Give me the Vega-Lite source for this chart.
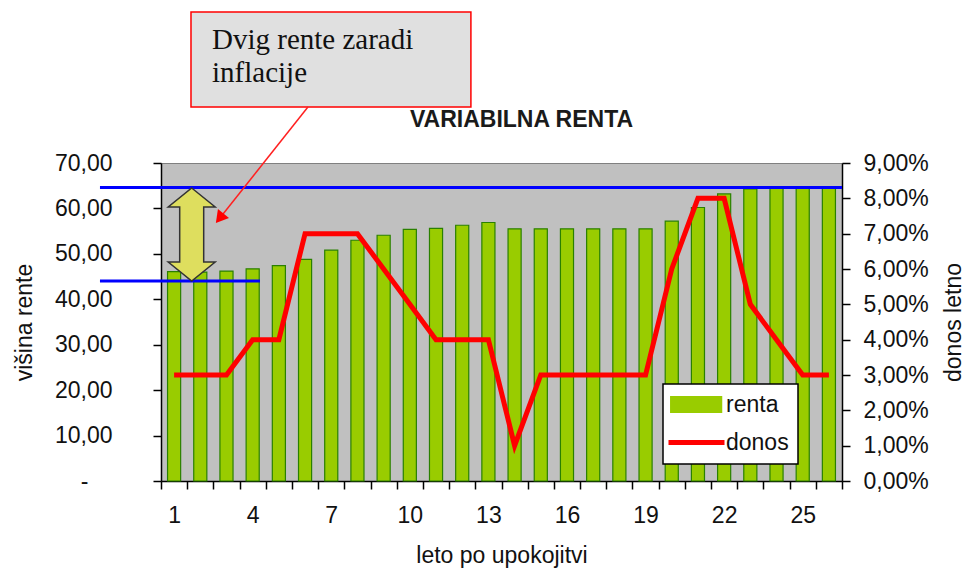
{
  "$schema": "https://vega.github.io/schema/vega-lite/v6.json",
  "width": 681,
  "height": 318,
  "autosize": {"type": "none"},
  "padding": {"left": 161, "top": 163, "right": 125, "bottom": 89},
  "background": "white",
  "title": {
    "text": "VARIABILNA RENTA",
    "font": "Liberation Sans",
    "fontSize": 23,
    "fontWeight": "bold",
    "color": "#1a1a1a",
    "frame": "group",
    "anchor": "middle",
    "dx": 20,
    "offset": -139,
    "baseline": "alphabetic"
  },
  "datasets": {
    "main": [
      {"leto": 1, "renta": 46.1, "donos": 3},
      {"leto": 2, "renta": 46.0, "donos": 3},
      {"leto": 3, "renta": 46.2, "donos": 3},
      {"leto": 4, "renta": 46.7, "donos": 4},
      {"leto": 5, "renta": 47.4, "donos": 4},
      {"leto": 6, "renta": 48.8, "donos": 7},
      {"leto": 7, "renta": 50.8, "donos": 7},
      {"leto": 8, "renta": 53.0, "donos": 7},
      {"leto": 9, "renta": 54.1, "donos": 6},
      {"leto": 10, "renta": 55.4, "donos": 5},
      {"leto": 11, "renta": 55.6, "donos": 4},
      {"leto": 12, "renta": 56.3, "donos": 4},
      {"leto": 13, "renta": 56.9, "donos": 4},
      {"leto": 14, "renta": 55.5, "donos": 1},
      {"leto": 15, "renta": 55.5, "donos": 3},
      {"leto": 16, "renta": 55.5, "donos": 3},
      {"leto": 17, "renta": 55.5, "donos": 3},
      {"leto": 18, "renta": 55.5, "donos": 3},
      {"leto": 19, "renta": 55.5, "donos": 3},
      {"leto": 20, "renta": 57.2, "donos": 6},
      {"leto": 21, "renta": 60.2, "donos": 8},
      {"leto": 22, "renta": 63.2, "donos": 8},
      {"leto": 23, "renta": 64.3, "donos": 5},
      {"leto": 24, "renta": 64.8, "donos": 4},
      {"leto": 25, "renta": 64.8, "donos": 3},
      {"leto": 26, "renta": 64.8, "donos": 3}
    ],
    "blue": [
      {"x": -1.83, "x2": 26.5, "y": 64.6},
      {"x": -1.83, "x2": 4.28, "y": 44.0}
    ],
    "box": [
      {"x": 1.645, "x2": 12.332, "y": 82.33, "y2": 103.24}
    ],
    "boxtext": [
      {"x": 2.447, "y": 95.1, "t": "Dvig rente zaradi"},
      {"x": 2.447, "y": 87.9, "t": "inflacije"}
    ],
    "pointer": [
      {"x": 6.11, "y": 82.33, "x2": 2.74, "y2": 57.83}
    ],
    "tip": [
      {"x": 2.74, "y": 57.83}
    ],
    "yarrow": [
      {"x": 1.672, "y": 54.26}
    ]
  },
  "layer": [
    {
      "data": {"name": "main"},
      "mark": {"type": "bar", "width": {"band": 0.5}, "stroke": "#2a8000", "strokeWidth": 1.2},
      "encoding": {
        "x": {
          "field": "leto",
          "type": "ordinal",
          "scale": {"paddingInner": 0, "paddingOuter": 0},
          "axis": {
            "title": "leto po upokojitvi",
            "labelAngle": 0,
            "tickBand": "extent",
            "labelExpr": "(datum.value - 1) % 3 === 0 ? datum.value : ''",
            "labelPadding": 15,
            "titlePadding": 17
          }
        },
        "y": {
          "field": "renta",
          "type": "quantitative",
          "scale": {"domain": [0, 70], "nice": false},
          "axis": {
            "title": "višina rente",
            "values": [0, 10, 20, 30, 40, 50, 60, 70],
            "labelExpr": "datum.value === 0 ? '-' : replace(format(datum.value, '.2f'), '.', ',')",
            "labelPadding": {"condition": {"test": "datum.value === 0", "value": 65}, "value": 41},
            "titlePadding": 18
          }
        },
        "color": {
          "datum": "renta",
          "type": "nominal",
          "scale": {"domain": ["renta", "donos"], "range": ["#99cc00", "#ff0000"]},
          "legend": {
            "orient": "none",
            "legendX": 502,
            "legendY": 221,
            "title": null,
            "padding": 9,
            "strokeColor": "#000000",
            "fillColor": "#ffffff",
            "labelFont": "Liberation Sans",
            "labelFontSize": 23,
            "labelColor": "#111111",
            "symbolSize": 400,
            "rowPadding": 14,
            "labelOffset": 31,
            "encode": {
              "legend": {"update": {"strokeWidth": {"value": 1.5}}},
              "symbols": {
                "update": {
                  "fill": {"signal": "datum.value === 'renta' ? '#99cc00' : 'transparent'"},
                  "stroke": {"signal": "datum.value === 'renta' ? '#2a8000' : '#ff0000'"},
                  "strokeWidth": {"signal": "datum.value === 'renta' ? 1.5 : 5"},
                  "shape": {"signal": "datum.value === 'renta' ? 'M-1.27,-0.78H3.8V0.78H-1.27Z' : 'M-1.5,0H4.1'"},
                  "opacity": {"value": 1}
                }
              }
            }
          }
        }
      }
    },
    {
      "data": {"name": "main"},
      "mark": {"type": "line", "strokeWidth": 5},
      "encoding": {
        "x": {"field": "leto", "type": "ordinal", "scale": {"padding": 0.5}, "axis": null},
        "y": {
          "field": "donos",
          "type": "quantitative",
          "scale": {"domain": [0, 9], "nice": false},
          "axis": {
            "orient": "right",
            "title": "donos letno",
            "titleAngle": -90,
            "titleBaseline": "top",
            "values": [0, 1, 2, 3, 4, 5, 6, 7, 8, 9],
            "labelExpr": "replace(format(datum.value, '.2f'), '.', ',') + '%'",
            "labelPadding": 13,
            "titlePadding": 14
          }
        },
        "color": {
          "datum": "donos",
          "type": "nominal",
          "legend": {
            "orient": "none",
            "legendX": 502,
            "legendY": 221,
            "title": null,
            "padding": 9,
            "strokeColor": "#000000",
            "fillColor": "#ffffff",
            "labelFont": "Liberation Sans",
            "labelFontSize": 23,
            "labelColor": "#111111",
            "symbolSize": 400,
            "rowPadding": 14,
            "labelOffset": 31,
            "encode": {
              "legend": {"update": {"strokeWidth": {"value": 1.5}}},
              "symbols": {
                "update": {
                  "fill": {"signal": "datum.value === 'renta' ? '#99cc00' : 'transparent'"},
                  "stroke": {"signal": "datum.value === 'renta' ? '#2a8000' : '#ff0000'"},
                  "strokeWidth": {"signal": "datum.value === 'renta' ? 1.5 : 5"},
                  "shape": {"signal": "datum.value === 'renta' ? 'M-1.27,-0.78H3.8V0.78H-1.27Z' : 'M-1.5,0H4.1'"},
                  "opacity": {"value": 1}
                }
              }
            }
          }
        }
      }
    },
    {
      "encoding": {
        "x": {"field": "x", "type": "quantitative", "scale": {"domain": [0.5, 26.5], "nice": false, "zero": false}, "axis": null},
        "y": {"field": "y", "type": "quantitative", "scale": {"domain": [0, 70], "nice": false, "zero": false}, "axis": null}
      },
      "layer": [
        {
          "data": {"name": "blue"},
          "mark": {"type": "rule", "color": "#0000ff", "strokeWidth": 3, "clip": false},
          "encoding": {"x2": {"field": "x2"}}
        },
        {
          "data": {"name": "yarrow"},
          "mark": {
            "type": "point",
            "shape": "M0,-1L0.505,-0.591L0.258,-0.591L0.258,0.591L0.505,0.591L0,1L-0.505,0.591L-0.258,0.591L-0.258,-0.591L-0.505,-0.591Z",
            "size": 8649,
            "filled": true,
            "fill": "#dede5e",
            "stroke": "#333333",
            "strokeWidth": 1.5,
            "opacity": 1,
            "clip": false
          }
        },
        {
          "data": {"name": "box"},
          "mark": {"type": "rect", "fill": "#e0e0e0", "stroke": "#ff0000", "strokeWidth": 1.5, "clip": false},
          "encoding": {"x2": {"field": "x2"}, "y2": {"field": "y2"}}
        },
        {
          "data": {"name": "boxtext"},
          "mark": {"type": "text", "align": "left", "baseline": "alphabetic", "font": "Liberation Serif", "fontSize": 29, "color": "#111111", "clip": false},
          "encoding": {"text": {"field": "t"}}
        },
        {
          "data": {"name": "pointer"},
          "mark": {"type": "rule", "color": "#ff2020", "strokeWidth": 1.5, "clip": false},
          "encoding": {"x2": {"field": "x2"}, "y2": {"field": "y2"}}
        },
        {
          "data": {"name": "tip"},
          "mark": {"type": "point", "shape": "triangle-up", "size": 200, "angle": 218.4, "filled": true, "fill": "#ff0000", "stroke": null, "opacity": 1, "clip": false}
        }
      ]
    }
  ],
  "resolve": {"scale": {"x": "independent", "y": "independent"}},
  "config": {
    "view": {"fill": "#c0c0c0", "stroke": "#808080", "strokeWidth": 1},
    "axis": {
      "labelFont": "Liberation Sans",
      "titleFont": "Liberation Sans",
      "labelFontSize": 23,
      "titleFontSize": 23,
      "titleFontWeight": "normal",
      "labelColor": "#111111",
      "titleColor": "#111111",
      "domainColor": "#000000",
      "tickColor": "#000000",
      "domainWidth": 1.5,
      "tickWidth": 1.5,
      "tickSize": 8,
      "grid": false
    }
  }
}
